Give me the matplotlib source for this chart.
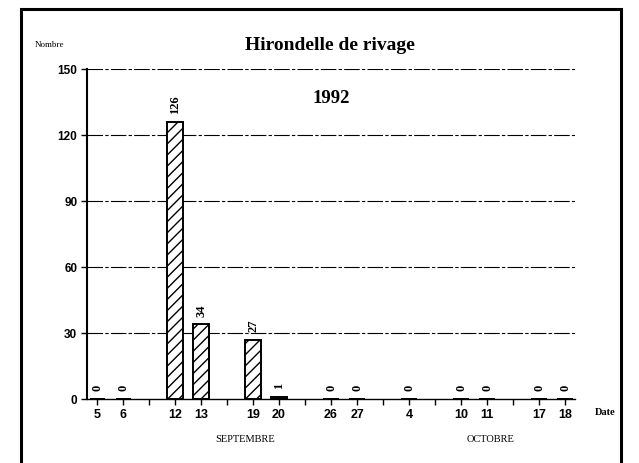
import matplotlib.pyplot as plt
import matplotlib.patches as patches
import numpy as np

# slots on the date axis (blank slots are days without counts)
days = ["5", "6", "", "12", "13", "", "19", "20", "", "26", "27", "", "4", "", "10", "11", "", "17", "18"]
counts = [0, 0, None, 126, 34, None, 27, 1, None, 0, 0, None, 0, None, 0, 0, None, 0, 0]
yticks = [0, 30, 60, 90, 120, 150]

plt.rcParams['hatch.linewidth'] = 1.0

fig = plt.figure(figsize=(6.39, 4.63), dpi=100)
ax = fig.add_axes([0.1362, 0.1382, 0.7637, 0.7127])

x = np.arange(len(days))
for i, v in enumerate(counts):
    if v is None:
        continue
    ax.bar(x[i], v, width=0.58, facecolor='white', edgecolor='black',
           linewidth=1.4, hatch='///', zorder=3)
    ax.text(x[i], v + 3.5, str(v), rotation=90, ha='center', va='bottom',
            fontsize=9, fontweight='bold', family='Liberation Serif')

ax.set_xlim(-0.385, 18.385)
ax.set_ylim(0, 150)
ax.set_yticks(yticks)
ax.set_yticklabels([str(t) for t in yticks], fontsize=8.5, fontweight='bold',
                   family='Liberation Sans')
ax.set_xticks(x)
ax.set_xticklabels(days, fontsize=9, fontweight='bold', family='Liberation Sans')
ax.tick_params(axis='both', length=4, width=1, direction='out', pad=3)
for t in yticks[1:]:
    ax.axhline(t, color='black', linewidth=0.8, linestyle=(0, (14, 2, 3, 2)), zorder=1)
for s in ['top', 'right']:
    ax.spines[s].set_visible(False)
ax.spines['left'].set_linewidth(1.5)
ax.spines['bottom'].set_linewidth(1.0)

ax.text(0.5, 0.91, "1992", transform=ax.transAxes, ha='center', va='center',
        fontsize=13.5, fontweight='bold', family='Liberation Serif')

fig.text(0.516, 0.902, "Hirondelle de rivage", ha='center', va='center',
         fontsize=14, fontweight='bold', family='Liberation Serif')
fig.text(0.078, 0.902, "Nombre", ha='center', va='center', fontsize=6.5,
         family='Liberation Serif')
fig.text(0.947, 0.108, "Date", ha='center', va='center', fontsize=7.5,
         fontweight='bold', family='Liberation Serif')
fig.text(0.383, 0.05, "SEPTEMBRE", ha='center', va='center', fontsize=7.5,
         family='Liberation Serif')
fig.text(0.768, 0.05, "OCTOBRE", ha='center', va='center', fontsize=7.5,
         family='Liberation Serif')

# outer frame, open at the bottom edge of the picture
fig.add_artist(patches.Rectangle((21 / 639, -0.05), 600 / 639, 1.05 - 9 / 463,
                                 transform=fig.transFigure, fill=False,
                                 edgecolor='black', linewidth=2.2))

fig.savefig("out.png", dpi=100)
